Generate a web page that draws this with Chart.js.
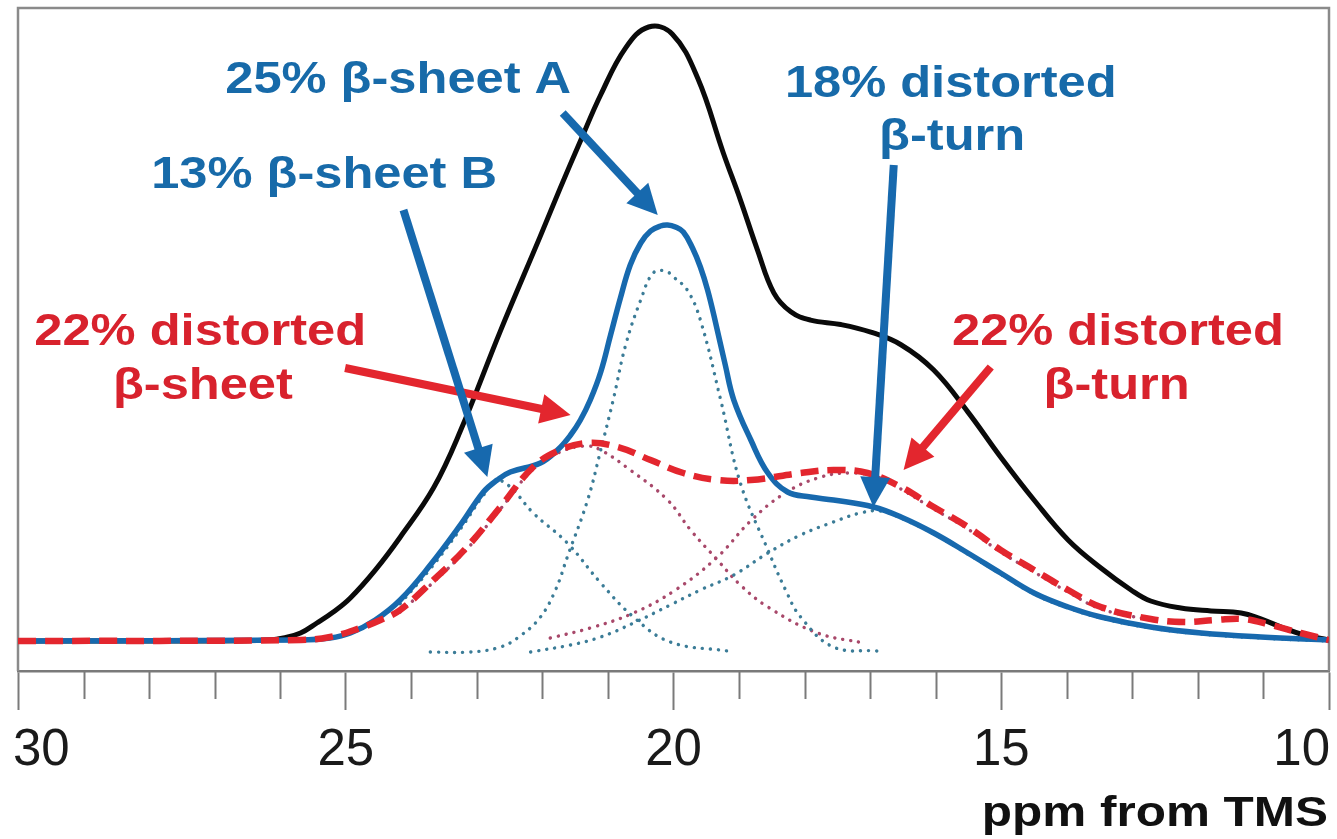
<!DOCTYPE html>
<html>
<head>
<meta charset="utf-8">
<script src="https://cdn.jsdelivr.net/npm/chart.js@4/dist/chart.umd.min.js"></script>
<style>
html,body{margin:0;padding:0;background:#ffffff;}
#wrap{width:1337px;height:839px;position:relative;}
</style>
</head>
<body>
<div id="wrap"><canvas id="c"></canvas></div>
<script>
// ---- data (chemical shift in ppm, intensity in arbitrary units) ----
const blackPpm = [30, 27.22, 26.15, 25.95, 25.69, 25.44, 25.19, 24.93, 24.55, 24.17, 23.66, 23.25, 22.64, 22.03, 21.73, 21.42, 21.11, 20.73, 20.38, 20.02, 19.63, 19.24, 18.98, 18.72, 18.47, 18.21, 17.91, 17.45, 16.99, 16.53, 16.03, 15.51, 15.01, 14.50, 13.98, 13.48, 13.02, 12.72, 12.26, 11.80, 11.34, 11.04, 10.73, 10.43, 10.0];
const blackInt = [0, 0, 0.16, 0.47, 1.26, 2.84, 4.58, 6.8, 11.2, 16.4, 24.2, 33.2, 49.0, 64.0, 71.5, 79.0, 86.3, 93.7, 97.0, 95.9, 88.9, 77.1, 69.7, 61.8, 55.0, 52.0, 50.7, 50.0, 48.8, 46.8, 42.8, 36.2, 29.07, 22.27, 15.96, 11.53, 8.06, 6.32, 5.21, 4.74, 4.42, 3.48, 2.21, 1.11, 0.16];

const bluePpm = [30, 25.69, 25.24, 24.93, 24.55, 24.17, 23.71, 23.25, 22.90, 22.69, 22.49, 22.03, 21.77, 21.57, 21.42, 21.27, 21.11, 20.96, 20.81, 20.66, 20.50, 20.35, 20.20, 20.09, 19.97, 19.85, 19.71, 19.59, 19.48, 19.36, 19.21, 19.08, 18.82, 18.56, 18.26, 17.91, 17.56, 16.95, 16.53, 16.03, 15.51, 15.01, 14.50, 13.98, 13.48, 12.72, 11.95, 11.04, 10.0];
const blueInt = [0, 0.16, 0.47, 1.26, 3.32, 6.48, 12.0, 18.33, 23.54, 25.43, 26.7, 28.12, 30.17, 32.54, 34.91, 38.07, 42.5, 48.34, 54.19, 59.4, 62.88, 64.77, 65.56, 65.72, 65.4, 64.61, 62.09, 59.08, 55.45, 50.39, 43.6, 38.07, 31.75, 26.54, 23.54, 22.75, 22.27, 21.17, 19.59, 17.06, 13.9, 10.74, 7.58, 5.37, 3.79, 2.21, 1.26, 0.63, 0.16];

const redPpm = [30, 25.69, 25.24, 24.78, 24.47, 24.17, 23.66, 23.15, 22.64, 22.14, 21.73, 21.31, 20.85, 20.35, 19.85, 19.33, 18.82, 18.06, 17.56, 17.04, 16.53, 16.03, 15.51, 15.01, 14.50, 13.98, 13.48, 12.72, 12.21, 11.73, 11.30, 10.89, 10.43, 10.0];
const redInt = [0, 0.16, 0.63, 2.05, 3.32, 4.9, 9.64, 14.85, 21.17, 27.49, 30.17, 31.28, 30.65, 28.59, 26.54, 25.43, 25.43, 26.54, 27.01, 26.54, 24.33, 21.17, 18.01, 14.38, 11.22, 8.06, 5.37, 3.48, 3.0, 3.32, 3.48, 2.53, 1.26, 0.16];

const sheetAPpm = [23.71, 23.10, 22.64, 22.34, 22.03, 21.80, 21.62, 21.31, 21.11, 20.92, 20.73, 20.50, 20.31, 20.12, 20.0, 19.79, 19.59, 19.28, 18.98, 18.56, 18.29, 18.06, 17.56, 16.89];
const sheetAInt = [-1.74, -1.74, -0.95, 0.79, 3.79, 8.06, 13.27, 22.27, 30.17, 38.07, 46.76, 53.87, 58.14, 58.45, 57.5, 55.45, 50.71, 38.07, 24.96, 14.38, 8.06, 3.79, -0.95, -1.58];

const sheetBPpm = [24.17, 23.71, 23.25, 22.90, 22.69, 22.49, 22.14, 21.62, 21.11, 20.61, 20.05, 19.18];
const sheetBInt = [5.9, 11.4, 17.7, 23.0, 25.3, 24.33, 20.22, 15.48, 9.16, 3.79, -0.16, -1.58];

const turnBluePpm = [22.18, 21.57, 21.11, 20.61, 20.05, 19.59, 19.08, 18.56, 18.06, 17.56, 17.15, 16.84, 16.53, 16.03, 15.51, 15.01, 14.50, 13.98, 13.48, 12.72, 11.95, 11.04, 10.0];
const turnBlueInt = [-1.74, -0.63, 0.63, 2.84, 5.69, 8.06, 10.43, 13.9, 16.75, 18.8, 20.22, 20.54, 19.43, 16.9, 13.74, 10.58, 7.42, 5.21, 3.63, 2.05, 1.11, 0.47, 0];

const sheetRedPpm = [24.17, 23.66, 23.15, 22.64, 22.14, 21.73, 21.34, 21.11, 20.66, 20.09, 19.74, 19.33, 18.98, 18.56, 17.80, 17.10];
const sheetRedInt = [4.58, 9.32, 14.53, 20.85, 27.17, 29.86, 30.81, 30.17, 27.01, 22.27, 17.54, 12.8, 8.85, 5.37, 1.26, -0.32];

const turnRedPpm = [21.88, 21.27, 20.61, 19.97, 19.33, 18.82, 18.32, 17.80, 17.30, 16.84, 16.53, 16.03, 15.51, 15.01, 14.50, 13.98, 13.48, 12.72];
const turnRedInt = [0.47, 2.05, 4.42, 8.06, 13.27, 19.0, 23.22, 25.75, 26.54, 25.75, 24.01, 20.85, 17.69, 14.06, 10.9, 7.74, 5.06, 3.3];

const majorTicks = [30, 25, 20, 15, 10];
const axisTitle = 'ppm from TMS';

// ---- styling ----
const BLUE = '#1769ae';
const RED = '#e3262e';
const BLUE_TXT = '#176aa9';
const RED_TXT = '#d8222d';
const BLUE_DOT = '#3b7c97';
const RED_DOT = '#a8486a';
const FRAME = '#8a8a8a';
const FONT = '"Liberation Sans", Arial, Helvetica, sans-serif';

const pts = (xs, ys) => xs.map((v, i) => ({x: v, y: ys[i]}));

// annotations in data coordinates (ppm, intensity)
const arrows = [
  {from: [25.01, 43.13], to: [21.57, 35.7], color: RED},
  {from: [15.16, 43.29], to: [16.49, 27.01], color: RED},
  {from: [21.69, 83.41], to: [20.24, 67.3], color: BLUE},
  {from: [24.12, 68.09], to: [22.84, 25.91], color: BLUE},
  {from: [16.64, 75.2], to: [16.95, 21.17], color: BLUE}
];
const labels = [
  {text: '25% β-sheet A', at: [24.20, 86.57], color: BLUE_TXT},
  {text: '13% β-sheet B', at: [25.33, 71.56], color: BLUE_TXT},
  {text: '18% distorted', at: [15.77, 85.94], color: BLUE_TXT},
  {text: 'β-turn', at: [15.75, 77.57], color: BLUE_TXT},
  {text: '22% distorted', at: [27.22, 46.76], color: RED_TXT},
  {text: 'β-sheet', at: [27.18, 38.23], color: RED_TXT},
  {text: '22% distorted', at: [13.22, 46.76], color: RED_TXT},
  {text: 'β-turn', at: [13.24, 38.23], color: RED_TXT}
];

const framePlugin = {
  id: 'frame',
  beforeDatasetsDraw(chart) {
    const {ctx, chartArea: a} = chart;
    ctx.save();
    ctx.strokeStyle = FRAME;
    ctx.lineWidth = 2.5;
    ctx.beginPath();
    ctx.moveTo(a.left, a.bottom);
    ctx.lineTo(a.left, a.top);
    ctx.lineTo(a.right, a.top);
    ctx.lineTo(a.right, a.bottom);
    ctx.stroke();
    ctx.restore();
  },
  afterDraw(chart) {
    const {ctx, chartArea: a, scales: {x}} = chart;
    ctx.save();
    // minor ticks (every 1 ppm) from the x scale
    ctx.strokeStyle = '#7a7a7a';
    ctx.lineWidth = 2;
    for (let v = Math.ceil(x.min); v <= x.max; v++) {
      if (majorTicks.includes(v)) continue;
      const px = Math.round(x.getPixelForValue(v)) + 0.5;
      ctx.beginPath();
      ctx.moveTo(px, a.bottom);
      ctx.lineTo(px, a.bottom + 28);
      ctx.stroke();
    }
    // major tick labels, kept inside the canvas at both ends
    ctx.fillStyle = '#1a1a1a';
    ctx.font = '51px ' + FONT;
    ctx.textBaseline = 'alphabetic';
    majorTicks.forEach(v => {
      const px = x.getPixelForValue(v);
      let tx = px;
      ctx.textAlign = 'center';
      if (px - a.left < 5) { ctx.textAlign = 'left'; tx = px - 5; }
      else if (a.right - px < 5) { ctx.textAlign = 'right'; tx = px + 1; }
      ctx.fillText(String(v), tx, a.bottom + 94);
    });
    // axis title
    ctx.save();
    ctx.font = 'bold 43px ' + FONT;
    ctx.fillStyle = '#111111';
    ctx.textAlign = 'right';
    ctx.translate(a.right - 1, a.bottom + 155);
    ctx.scale(1.15, 1);
    ctx.fillText(axisTitle, 0, 0);
    ctx.restore();
    ctx.restore();
  }
};

const annotatePlugin = {
  id: 'annotate',
  afterDatasetsDraw(chart) {
    const {ctx, scales: {x, y}} = chart;
    ctx.save();
    arrows.forEach(a => {
      const x0 = x.getPixelForValue(a.from[0]), y0 = y.getPixelForValue(a.from[1]);
      const x1 = x.getPixelForValue(a.to[0]), y1 = y.getPixelForValue(a.to[1]);
      const ang = Math.atan2(y1 - y0, x1 - x0);
      const hl = 30, hw = 15;
      const bx = x1 - hl * Math.cos(ang), by = y1 - hl * Math.sin(ang);
      ctx.strokeStyle = a.color;
      ctx.lineWidth = 8;
      ctx.lineCap = 'butt';
      ctx.beginPath();
      ctx.moveTo(x0, y0);
      ctx.lineTo(bx + 3 * Math.cos(ang), by + 3 * Math.sin(ang));
      ctx.stroke();
      ctx.fillStyle = a.color;
      ctx.beginPath();
      ctx.moveTo(x1, y1);
      ctx.lineTo(bx + hw * Math.sin(ang), by - hw * Math.cos(ang));
      ctx.lineTo(bx - hw * Math.sin(ang), by + hw * Math.cos(ang));
      ctx.closePath();
      ctx.fill();
    });
    ctx.font = 'bold 44px ' + FONT;
    ctx.textAlign = 'center';
    ctx.textBaseline = 'alphabetic';
    labels.forEach(l => {
      const px = x.getPixelForValue(l.at[0]), py = y.getPixelForValue(l.at[1]);
      ctx.save();
      ctx.translate(px, py);
      ctx.scale(1.15, 1);
      ctx.fillStyle = l.color;
      ctx.fillText(l.text, 0, 0);
      ctx.restore();
    });
    ctx.restore();
  }
};

const lineBase = {pointRadius: 0, pointHoverRadius: 0, fill: false, tension: 0.4};
const dotted = (color) => ({borderColor: color, borderWidth: 3.4, borderDash: [0.1, 8], borderCapStyle: 'round'});

new Chart(document.getElementById('c'), {
  type: 'line',
  data: {
    datasets: [
      Object.assign({label: 'sum of distorted components', data: pts(redPpm, redInt), borderColor: RED, borderWidth: 6.5, borderDash: [18, 9]}, lineBase),
      Object.assign({label: 'sum of β-sheet components', data: pts(bluePpm, blueInt), borderColor: BLUE, borderWidth: 5.5}, lineBase),
      Object.assign({label: 'experimental spectrum', data: pts(blackPpm, blackInt), borderColor: '#0a0a0a', borderWidth: 5}, lineBase),
      Object.assign({label: 'β-sheet A', data: pts(sheetAPpm, sheetAInt)}, dotted(BLUE_DOT), lineBase),
      Object.assign({label: 'β-sheet B', data: pts(sheetBPpm, sheetBInt)}, dotted(BLUE_DOT), lineBase),
      Object.assign({label: 'distorted β-turn (18%)', data: pts(turnBluePpm, turnBlueInt)}, dotted(BLUE_DOT), lineBase),
      Object.assign({label: 'distorted β-sheet', data: pts(sheetRedPpm, sheetRedInt)}, dotted(RED_DOT), lineBase),
      Object.assign({label: 'distorted β-turn (22%)', data: pts(turnRedPpm, turnRedInt)}, dotted(RED_DOT), lineBase)
    ]
  },
  options: {
    responsive: true,
    maintainAspectRatio: false,
    animation: false,
    devicePixelRatio: 1,
    layout: {padding: {left: 18, right: 8, top: 8, bottom: 129}},
    plugins: {legend: {display: false}, tooltip: {enabled: false}},
    events: [],
    scales: {
      x: {
        type: 'linear',
        min: 10,
        max: 30,
        reverse: true,
        border: {display: true, color: '#7a7a7a', width: 2.5},
        grid: {
          display: true,
          drawOnChartArea: false,
          drawTicks: true,
          tickLength: 39,
          tickWidth: 2,
          tickColor: (c) => (c.tick && majorTicks.includes(c.tick.value)) ? '#7a7a7a' : 'rgba(0,0,0,0)'
        },
        ticks: {stepSize: 1, autoSkip: false, maxRotation: 0, display: false},
        title: {display: false, text: axisTitle}
      },
      y: {
        display: false,
        min: -4.74,
        max: 100
      }
    }
  },
  plugins: [framePlugin, annotatePlugin]
});
</script>
</body>
</html>
